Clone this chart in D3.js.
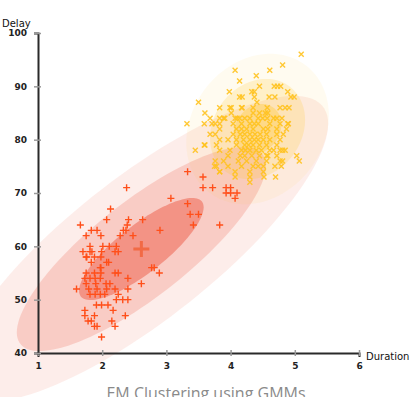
<!DOCTYPE html>
<html>
<head>
<meta charset="utf-8">
<script src="https://cdn.jsdelivr.net/npm/d3@7"></script>
<style>
  html, body { margin: 0; padding: 0; background: #fff; }
  svg { display: block; }
</style>
</head>
<body>
<svg id="chart" width="418" height="397"></svg>
<script>
// Eruption duration (min) vs. delay to next eruption (min), two clusters
const shortEruptions = [
  [1.60,52],[1.70,59],[1.81,59],[1.99,59],[2.25,59],[1.75,58],[1.88,58],[1.98,58],
  [1.83,57],[2.07,57],[1.97,56],[2.81,56],[2.89,55],[1.75,55],[1.88,55],[1.98,55],
  [2.20,55],[2.25,55],[2.40,54],[1.73,54],[1.81,54],[1.89,54],[1.97,54],[1.75,53],
  [1.90,53],[2.06,53],[2.12,53],[2.40,52],[2.61,53],[1.79,52],[1.92,52],[2.07,52],
  [2.20,52],[1.81,51],[1.89,51],[1.97,51],[2.04,51],[2.25,51],[2.22,50],[2.32,50],
  [2.40,50],[1.91,49],[1.99,49],[2.09,49],[1.73,48],[2.17,48],[1.73,47],[1.88,47],
  [2.36,47],[1.78,46],[1.83,46],[2.15,46],[1.88,45],[1.92,45],[2.20,45],[1.99,43],
  [2.38,71],[2.13,67],[1.66,64],[2.07,65],[1.83,63],[2.63,65],[2.39,64],[2.33,63],
  [1.75,62],[1.98,62],[2.28,62],[2.48,62],[2.01,60],[2.11,60],[2.22,60],[1.81,60],
  [1.84,59],[2.20,59],[1.76,58],[2.10,57],[1.98,56],[2.77,56],[3.33,74],[3.57,73],
  [3.57,71],[3.72,71],[3.93,71],[4.00,71],[3.93,70],[4.00,70],[4.10,70],[4.07,69],
  [3.07,69],[3.33,68],[3.37,66],[3.50,66],[3.42,64],[3.83,64],[2.90,63],[2.41,65],
  [1.92,63],[2.37,63]
];

const longEruptions = [
  [3.83,86],[4.01,86],[4.18,86],[4.35,86],[4.57,86],[4.77,86],
  [3.68,84],[3.83,84],[3.91,84],[4.10,84],[4.30,84],[4.43,84],[4.57,84],[4.80,84],
  [3.71,83],[3.83,83],[4.04,83],[4.17,83],[4.30,83],[4.43,83],[4.61,83],[4.77,83],[4.90,83],
  [3.83,82],[4.09,82],[4.25,82],[4.35,82],[4.51,82],[4.72,82],[4.87,82],
  [3.68,81],[3.76,81],[4.04,81],[4.15,81],[4.30,81],[4.38,81],[4.46,81],[4.56,81],[4.72,81],
  [3.83,80],[3.96,80],[4.09,80],[4.30,80],[4.43,80],[4.51,80],[4.61,80],[4.77,80],
  [3.60,79],[3.78,79],[4.09,79],[4.22,79],[4.35,79],[4.56,79],[4.72,79],
  [3.83,78],[3.99,78],[4.17,78],[4.30,78],[4.48,78],[4.61,78],[4.77,78],[4.85,78],
  [3.96,77],[4.15,77],[4.33,77],[4.56,77],[4.72,77],
  [3.76,76],[3.89,76],[4.12,76],[4.25,76],[4.56,76],[4.77,76],
  [3.78,75],[3.96,75],[4.17,75],[4.35,75],[4.51,75],
  [3.83,74],[4.07,74],[4.30,74],[4.51,74],
  [4.45,85],[4.22,84],[4.50,84],[4.37,83],[4.17,82],[4.58,82],
  [4.22,81],[4.20,80],[4.37,80],[4.28,79],[4.45,79],[4.23,78],[4.40,78],
  [4.22,77],[4.45,77],[4.40,76],[4.43,75],
  [5.10,96],[4.81,94],[4.61,93],[4.07,93],[4.40,92],[4.14,91],
  [4.68,90],[4.73,90],[4.78,90],[4.45,90],[4.37,89],[4.33,89],[4.89,89],[3.98,89],
  [4.60,88],[4.69,88],[4.94,88],[4.99,88],[4.37,88],[4.18,88],[4.14,88],
  [4.41,87],[3.50,87],[4.85,86],[4.91,86],[4.17,86],[3.99,86],
  [4.54,85],[4.58,85],[4.35,85],[3.60,85],[4.01,85],
  [4.67,84],[4.72,84],[3.89,84],[4.07,84],[4.14,84],
  [3.32,83],[3.59,83],[3.76,83],[4.89,83],[4.82,81],
  [3.45,78],[3.59,79],[3.75,75],[3.83,74],[4.07,73],[4.30,73],[4.30,72],
  [4.52,73],[4.70,73],[5.03,77],[5.07,76],[4.67,78],[4.81,78],[4.58,77],
  [4.81,76],[4.69,75],[4.79,75]
];

// Fitted Gaussian components: mean, standard deviations, correlation
const componentNames = ["short", "long"];
const componentMeans = [[2.61, 59.5], [4.42, 82]];
const componentSd = [[0.97, 9.57], [0.37, 4.7]];
const componentRho = [0.817, 0.18];
const sigmaLevels = [3, 2, 1];

const xTicks = [1, 2, 3, 4, 5, 6];
const yTicks = [40, 50, 60, 70, 80, 90, 100];

const svg = d3.select("#chart");
const x = d3.scaleLinear().domain([1, 6]).range([38, 359]);
const y = d3.scaleLinear().domain([40, 100]).range([353, 33]);

const palette = {
  short: { point: "#ff4f1a", fill: "#ea4a34", alphas: [0.1, 0.2, 0.44] },
  long:  { point: "#ffc21e", fill: "#ffc62a", alphas: [0.07, 0.2, 0.34] }
};

// Ellipse outline at k standard deviations, traced in data space
function ellipsePath(i, k) {
  const [mx, my] = componentMeans[i];
  const [sx, sy] = componentSd[i];
  const r = componentRho[i];
  const pts = d3.range(0, 121).map(j => {
    const t = (j / 120) * 2 * Math.PI;
    const u = Math.cos(t), v = Math.sin(t);
    // Cholesky factor of the covariance
    const dx = k * sx * u;
    const dy = k * sy * (r * u + Math.sqrt(1 - r * r) * v);
    return [x(mx + dx), y(my + dy)];
  });
  return d3.line().curve(d3.curveLinearClosed)(pts);
}

const ellipses = svg.append("g");
componentNames.forEach((name, i) => {
  sigmaLevels.forEach((k, li) => {
    ellipses.append("path")
      .attr("d", ellipsePath(i, k))
      .attr("fill", palette[name].fill)
      .attr("fill-opacity", palette[name].alphas[li]);
  });
});

// Axes
const axisX = svg.append("g")
  .attr("transform", `translate(0,${y(40)})`)
  .call(d3.axisBottom(x).tickValues(xTicks).tickFormat(d3.format("d"))
    .tickSize(4).tickSizeOuter(4).tickPadding(6));
const axisY = svg.append("g")
  .attr("transform", `translate(${x(1)},0)`)
  .call(d3.axisLeft(y).tickValues(yTicks).tickFormat(d3.format("d"))
    .tickSize(4).tickSizeOuter(4).tickPadding(7));

[axisX, axisY].forEach(g => {
  g.select(".domain").attr("stroke", "#2a2a2a").attr("stroke-width", 2);
  g.selectAll(".tick line").attr("stroke", "#999").attr("stroke-width", 1.5);
  g.selectAll(".tick text")
    .attr("font-family", "DejaVu Sans, sans-serif")
    .attr("font-size", 9)
    .attr("font-weight", "bold")
    .attr("fill", "#222");
});
axisX.selectAll(".tick line").attr("y1", -3).attr("y2", 3);
axisY.selectAll(".tick line").attr("x1", -4).attr("x2", 3);

svg.append("text")
  .attr("x", 2).attr("y", 27)
  .attr("font-family", "DejaVu Sans, sans-serif")
  .attr("font-size", 10)
  .attr("fill", "#111")
  .text("Delay");

svg.append("text")
  .attr("x", 366).attr("y", 360)
  .attr("font-family", "DejaVu Sans, sans-serif")
  .attr("font-size", 10)
  .attr("fill", "#111")
  .text("Duration");

// Points
const pts = svg.append("g");
pts.selectAll(".short")
  .data(shortEruptions)
  .join("path")
  .attr("transform", d => `translate(${x(d[0])},${y(d[1])})`)
  .attr("d", "M-3.5,0H3.5M0,-3.5V3.5")
  .attr("stroke", palette.short.point)
  .attr("stroke-width", 1.4)
  .attr("fill", "none");

pts.selectAll(".long")
  .data(longEruptions)
  .join("path")
  .attr("transform", d => `translate(${x(d[0])},${y(d[1])})`)
  .attr("d", "M-2.5,-2.5L2.5,2.5M-2.5,2.5L2.5,-2.5")
  .attr("stroke", palette.long.point)
  .attr("stroke-width", 1.4)
  .attr("stroke-opacity", 0.9)
  .attr("fill", "none");

// Component centre marker
svg.append("path")
  .attr("transform", `translate(${x(componentMeans[0][0])},${y(componentMeans[0][1])})`)
  .attr("d", "M-8,0H8M0,-8V8")
  .attr("stroke", "#f26a45")
  .attr("stroke-width", 3);

svg.append("text")
  .attr("x", 206).attr("y", 399)
  .attr("text-anchor", "middle")
  .attr("font-family", "Open Sans, sans-serif")
  .attr("font-size", 16)
  .attr("fill", "#8a8a8a")
  .text("EM Clustering using GMMs");
</script>
</body>
</html>
